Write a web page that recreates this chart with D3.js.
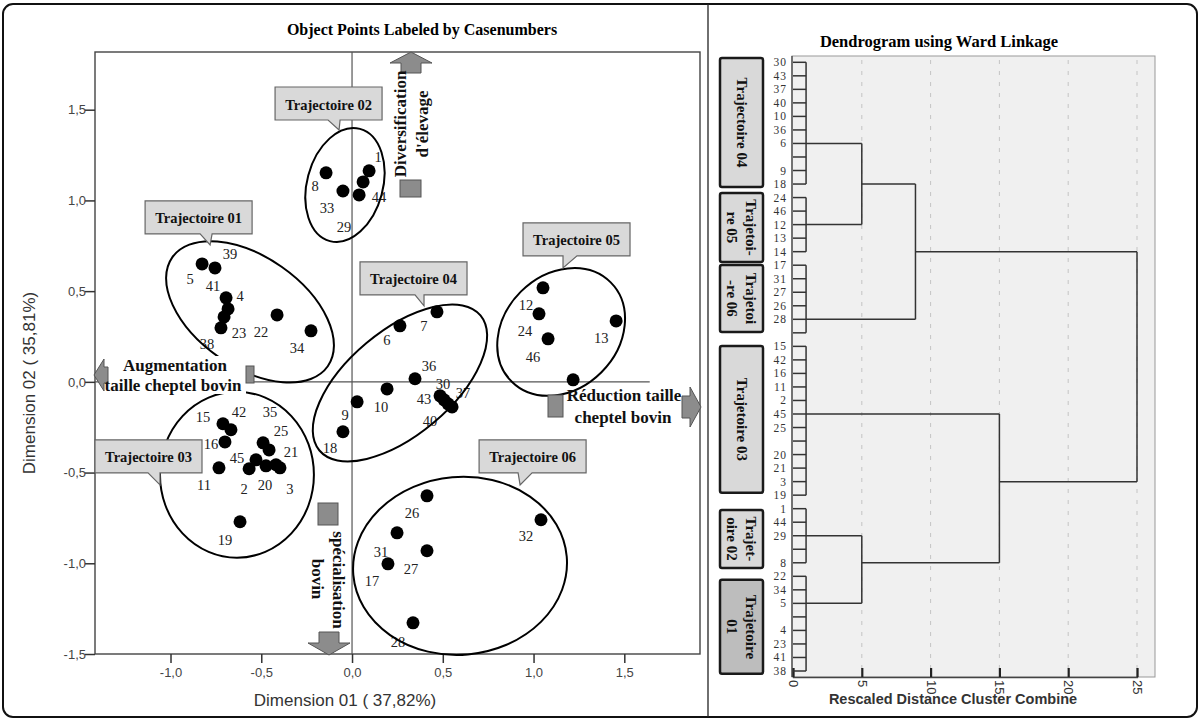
<!DOCTYPE html>
<html>
<head>
<meta charset="utf-8">
<script src="https://cdn.jsdelivr.net/npm/d3@7"></script>
<style>
  body { margin: 0; background: #fff; }
  svg { display: block; }
</style>
</head>
<body>
<div id="wrapper"></div>
<script>
// ---- data ----
const caseIds = d3.range(1, 47)
const dim1 = [0.094, -0.567, -0.397, -0.683, -0.826, 0.264, 0.468, -0.143, 0.028, 0.193,
  -0.733, 1.052, 1.455, 1.218, -0.711, -0.700, 0.198, -0.050, -0.617, -0.474,
  -0.419, -0.413, -0.705, 1.030, -0.457, 0.413, 0.413, 0.336, 0.039, 0.485,
  0.248, 1.041, -0.050, -0.226, -0.490, 0.347, 0.529, -0.722, -0.755, 0.551,
  -0.694, -0.667, 0.507, 0.061, -0.529, 1.080]
const dim2 = [1.163, -0.479, -0.474, 0.402, 0.650, 0.309, 0.386, 1.152, -0.110, -0.039,
  -0.474, 0.518, 0.336, 0.011, -0.231, -0.331, -1.003, -0.275, -0.771, -0.463,
  -0.457, 0.369, 0.358, 0.375, -0.375, -0.628, -0.931, -1.328, 1.030, -0.077,
  -0.832, -0.760, 1.052, 0.281, -0.336, 0.017, -0.121, 0.298, 0.628, -0.138,
  0.463, -0.264, -0.099, 1.102, -0.430, 0.237]

const xTicks = [-1, -0.5, 0, 0.5, 1, 1.5]
const yTicks = [-1.5, -1, -0.5, 0, 0.5, 1, 1.5]

// dendrogram: leaf order (blank = label not printed)
const dendroRows = ["30","43","37","40","10","36","6","","9","18",
  "24","46","12","13","14","17","31","27","26","28","",
  "15","42","16","11","2","45","25","","20","21","3","19",
  "1","44","29","","8","22","34","5","","4","23","41","38"]
const clusterNames = ["T04", "T05", "T06", "T03", "T02", "T01"]
const clusterFirst = [0, 10, 15, 21, 33, 38]
const clusterLast = [9, 14, 20, 32, 37, 45]
const clusterJoin = [6, 12, 19, 26, 35, 40]
const leafHeight = 0.95
const merges = { h: 25, children: [
  { h: 8.9, children: [{ h: 5, children: ["T04", "T05"] }, "T06"] },
  { h: 15, children: ["T03", { h: 5, children: ["T02", "T01"] }] }
]}
const distTicks = [0, 5, 10, 15, 20, 25]

// ---- label placement and annotations (layout) ----
const labelOffset = [[9,-14],[-5,20],[10,21],[12,-13],[-12,15],[-13,14],[-13,14],[-11,13],[-12,13],[-6,18],
  [-15,17],[-17,17],[-15,17],null,[-20,-7],[-14,2],[-16,17],[-13,16],[-15,18],[-1,19],
  [15,-13],[-16,17],[15,16],[-14,17],[12,-19],[-15,17],[-16,18],[-15,19],[-15,32],[3,-12],
  [-16,19],[-15,16],[-16,17],[-14,17],[7,-31],[14,-13],[15,-11],[-14,16],[15,-14],[-22,14],
  [-13,-12],[8,-18],[-20,-1],[16,15],[-19,-2],[-15,18]]

const ellipses = [
  { cx: -0.039, cy: 1.085, rx: 0.209, ry: 0.320, rot: 15 },
  { cx: -0.562, cy: 0.386, rx: 0.523, ry: 0.303, rot: 35 },
  { cx: 0.264, cy: -0.006, rx: 0.579, ry: 0.287, rot: -40 },
  { cx: 1.152, cy: 0.275, rx: 0.386, ry: 0.314, rot: -45 },
  { cx: -0.634, cy: -0.512, rx: 0.424, ry: 0.457, rot: 0 },
  { cx: 0.595, cy: -1.014, rx: 0.590, ry: 0.490, rot: -5 },
]
const callouts = [
  { text: "Trajectoire 02", x: -0.424, y: 1.625, b1: 53, b2: 65, tx: 64, ty: 10 },
  { text: "Trajectoire 01", x: -1.140, y: 0.997, b1: 55, b2: 67, tx: 65, ty: 11 },
  { text: "Trajectoire 04", x: 0.044, y: 0.661, b1: 55, b2: 64, tx: 64, ty: 11 },
  { text: "Trajectoire 05", x: 0.942, y: 0.876, b1: 40, b2: 54, tx: 40, ty: 12 },
  { text: "Trajectoire 03", x: -1.416, y: -0.320, b1: 53, b2: 65, tx: 65, ty: 12 },
  { text: "Trajectoire 06", x: 0.700, y: -0.320, b1: 39, b2: 53, tx: 41, ty: 12 },
]
const clusterBoxes = [
  { lines: ["Trajectoire 04"], r0: -0.32, r1: 9.22, fill: "#d9d9d9" },
  { lines: ["Trajetoi-", "re 05"], r0: 9.66, r1: 14.76, fill: "#d9d9d9" },
  { lines: ["Trajetoi", "-re 06"], r0: 14.98, r1: 19.93, fill: "#d9d9d9" },
  { lines: ["Trajetoire 03"], r0: 20.97, r1: 31.83, fill: "#d9d9d9" },
  { lines: ["Trajet-", "oire 02"], r0: 33.09, r1: 37.38, fill: "#d9d9d9" },
  { lines: ["Trajetoire", "01"], r0: 38.26, r1: 45.21, fill: "#bdbdbd" },
]

const serif = "'Liberation Serif', 'Times New Roman', serif"
const sans = "'Liberation Sans', Arial, sans-serif"

const svg = d3.select("#wrapper").append("svg")
  .attr("width", 1200)
  .attr("height", 721)

// outer frame + divider
svg.append("rect")
  .attr("x", 3).attr("y", 4).attr("width", 1194).attr("height", 713)
  .attr("rx", 10)
  .attr("fill", "#fff").attr("stroke", "#111").attr("stroke-width", 2)
svg.append("line")
  .attr("x1", 708).attr("x2", 708).attr("y1", 4).attr("y2", 717)
  .attr("stroke", "#222").attr("stroke-width", 1.3)

// ================= scatter =================
const plot = { left: 95, right: 700, top: 52, bottom: 654 }
const xScale = d3.scaleLinear().domain([-1.416, 1.917]).range([plot.left, plot.right])
const yScale = d3.scaleLinear().domain([-1.5, 1.818]).range([plot.bottom, plot.top])
const pxPerUnit = xScale(1) - xScale(0)

svg.append("text")
  .attr("x", 422).attr("y", 35)
  .attr("text-anchor", "middle")
  .style("font-family", serif).style("font-weight", "bold").style("font-size", "16px")
  .text("Object Points Labeled by Casenumbers")

svg.append("rect")
  .attr("x", plot.left).attr("y", plot.top)
  .attr("width", plot.right - plot.left).attr("height", plot.bottom - plot.top)
  .attr("fill", "none").attr("stroke", "#444").attr("stroke-width", 1.4)

const fmt = d => (d < 0 ? "-" : "") + Math.abs(d).toFixed(1).replace(".", ",")

const xAxis = svg.append("g")
  .attr("transform", `translate(0, ${plot.bottom})`)
  .call(d3.axisBottom(xScale).tickValues(xTicks).tickSize(9).tickFormat(fmt))
const yAxis = svg.append("g")
  .attr("transform", `translate(${plot.left}, 0)`)
  .call(d3.axisLeft(yScale).tickValues(yTicks).tickSize(10).tickFormat(fmt))
;[xAxis, yAxis].forEach(ax => {
  ax.select(".domain").remove()
  ax.selectAll("line").attr("stroke", "#333").attr("stroke-width", 1.5)
  ax.selectAll("text").attr("fill", "#444").style("font-family", sans).style("font-size", "13px")
})
xAxis.selectAll("text").attr("y", 14)
yAxis.selectAll("text").attr("x", -9)

svg.append("text")
  .attr("x", 345).attr("y", 706)
  .attr("text-anchor", "middle")
  .attr("fill", "#333")
  .style("font-family", sans).style("font-size", "17px")
  .text("Dimension 01 ( 37,82%)")
svg.append("text")
  .attr("transform", "translate(35, 383) rotate(-90)")
  .attr("text-anchor", "middle")
  .attr("fill", "#333")
  .style("font-family", sans).style("font-size", "17px")
  .text("Dimension 02 ( 35,81%)")

// zero reference lines
svg.append("line")
  .attr("x1", xScale(0)).attr("x2", xScale(0))
  .attr("y1", plot.top).attr("y2", plot.bottom)
  .attr("stroke", "#555").attr("stroke-width", 1.2)
svg.append("line")
  .attr("x1", plot.left).attr("x2", xScale(1.64))
  .attr("y1", yScale(0)).attr("y2", yScale(0))
  .attr("stroke", "#555").attr("stroke-width", 1.2)

const points = caseIds.map((id, i) => ({ id, x: dim1[i], y: dim2[i], off: labelOffset[i] }))

// labels then dots
svg.append("g").selectAll("text")
  .data(points.filter(d => d.off))
  .enter().append("text")
    .attr("x", d => xScale(d.x) + d.off[0])
    .attr("y", d => yScale(d.y) + d.off[1])
    .attr("text-anchor", "middle")
    .attr("dominant-baseline", "central")
    .attr("fill", "#222")
    .style("font-family", serif).style("font-size", "14.5px")
    .text(d => d.id)

svg.append("g").selectAll("circle")
  .data(points)
  .enter().append("circle")
    .attr("cx", d => xScale(d.x))
    .attr("cy", d => yScale(d.y))
    .attr("r", 6.5)
    .attr("fill", "#000")

// ellipses round the trajectories
svg.append("g").selectAll("ellipse")
  .data(ellipses)
  .enter().append("ellipse")
    .attr("transform", d => `translate(${xScale(d.cx)}, ${yScale(d.cy)}) rotate(${d.rot})`)
    .attr("rx", d => d.rx * pxPerUnit)
    .attr("ry", d => d.ry * pxPerUnit)
    .attr("fill", "none")
    .attr("stroke", "#000")
    .attr("stroke-width", 2)

// white ground behind the left annotation
svg.append("rect")
  .attr("x", 104).attr("y", 356).attr("width", 142).attr("height", 38)
  .attr("fill", "#fff")

// arrows and grey squares
function arrowPath(tip, dir, headW, headL, shaftW, shaftL) {
  const [tx, ty] = tip
  const hw = headW / 2, sw = shaftW / 2, L = headL + shaftL
  const base = [[0, 0], [headL, -hw], [headL, -sw], [L, -sw], [L, sw], [headL, sw], [headL, hw]]
  const map = {
    left: ([u, v]) => [tx + u, ty + v],
    right: ([u, v]) => [tx - u, ty + v],
    up: ([u, v]) => [tx + v, ty + u],
    down: ([u, v]) => [tx + v, ty - u],
  }[dir]
  return "M" + base.map(map).map(p => p.join(",")).join("L") + "Z"
}
const arrows = [
  { tip: [411, 52], dir: "up", hw: 42, hl: 11, sw: 20, sl: 10 },
  { tip: [329, 655], dir: "down", hw: 42, hl: 12, sw: 20, sl: 11 },
  { tip: [701, 407], dir: "right", hw: 40, hl: 11, sw: 22, sl: 8 },
  { tip: [94, 375], dir: "left", hw: 32, hl: 10, sw: 16, sl: 4 },
]
svg.append("g").selectAll("path")
  .data(arrows)
  .enter().append("path")
    .attr("d", d => arrowPath(d.tip, d.dir, d.hw, d.hl, d.sw, d.sl))
    .attr("fill", "#8c8c8c").attr("stroke", "#555").attr("stroke-width", 1)

const squares = [[400, 180, 21, 17], [246, 366, 8, 17], [548, 395, 15, 22], [318, 503, 20, 22]]
svg.append("g").selectAll("rect")
  .data(squares)
  .enter().append("rect")
    .attr("x", d => d[0]).attr("y", d => d[1])
    .attr("width", d => d[2]).attr("height", d => d[3])
    .attr("fill", "#8c8c8c").attr("stroke", "#555").attr("stroke-width", 1)

const notes = [
  { t: "Diversification", x: 400, y: 124, rot: -90 },
  { t: "d'élevage", x: 422, y: 124, rot: -90 },
  { t: "Augmentation", x: 175, y: 365, rot: 0 },
  { t: "taille cheptel bovin", x: 173, y: 385, rot: 0 },
  { t: "Réduction taille", x: 624, y: 395, rot: 0 },
  { t: "cheptel bovin", x: 623, y: 417, rot: 0 },
  { t: "spécialisation", x: 338, y: 580, rot: 90 },
  { t: "bovin", x: 317, y: 579, rot: 90 },
]
svg.append("g").selectAll("text")
  .data(notes)
  .enter().append("text")
    .attr("transform", d => `translate(${d.x}, ${d.y}) rotate(${d.rot})`)
    .attr("text-anchor", "middle")
    .attr("dominant-baseline", "central")
    .attr("fill", "#111")
    .style("font-family", serif).style("font-weight", "bold").style("font-size", "17px")
    .text(d => d.t)

// callout boxes
const cw = 107, ch = 33
const calloutG = svg.append("g").selectAll("g")
  .data(callouts)
  .enter().append("g")
    .attr("transform", d => `translate(${xScale(d.x)}, ${yScale(d.y)})`)
calloutG.append("path")
  .attr("d", d => `M0,0H${cw}V${ch}H${d.b2}L${d.tx},${ch + d.ty}L${d.b1},${ch}H0Z`)
  .attr("fill", "#d9d9d9").attr("stroke", "#666").attr("stroke-width", 1.2)
calloutG.append("text")
  .attr("x", cw / 2).attr("y", ch / 2 + 1)
  .attr("text-anchor", "middle")
  .attr("dominant-baseline", "central")
  .attr("fill", "#111")
  .style("font-family", serif).style("font-weight", "bold").style("font-size", "14.5px")
  .text(d => d.text)

// ================= dendrogram =================
const dFrame = { left: 792, right: 1155, top: 56, bottom: 677 }
const xD = d3.scaleLinear().domain([0, 25]).range([793, 1137])
const yD = d3.scaleLinear().domain([0, 45]).range([62.3, 671])

svg.append("text")
  .attr("x", 939).attr("y", 47)
  .attr("text-anchor", "middle")
  .style("font-family", serif).style("font-weight", "bold").style("font-size", "16.5px")
  .text("Dendrogram using Ward Linkage")

svg.append("rect")
  .attr("x", dFrame.left).attr("y", dFrame.top)
  .attr("width", dFrame.right - dFrame.left).attr("height", dFrame.bottom - dFrame.top)
  .attr("fill", "#f0f0f0").attr("stroke", "#999").attr("stroke-width", 1)

svg.append("g").selectAll("line")
  .data(distTicks.filter(d => d > 0))
  .enter().append("line")
    .attr("x1", d => xD(d)).attr("x2", d => xD(d))
    .attr("y1", dFrame.top + 4).attr("y2", dFrame.bottom)
    .attr("stroke", "#c4c4c4").attr("stroke-dasharray", "4,7").attr("stroke-width", 1)

svg.append("line")
  .attr("x1", dFrame.left).attr("x2", dFrame.left)
  .attr("y1", dFrame.top).attr("y2", dFrame.bottom)
  .attr("stroke", "#444").attr("stroke-width", 1.3)

const dAxis = svg.append("g")
  .attr("transform", `translate(0, ${dFrame.bottom})`)
  .call(d3.axisBottom(xD).tickValues(distTicks).tickSize(-9))
dAxis.select(".domain").attr("stroke", "#444").attr("stroke-width", 1.3)
dAxis.selectAll(".tick line").attr("stroke", "#222").attr("stroke-width", 2.2)
dAxis.selectAll(".tick text")
  .attr("y", 0).attr("dy", null)
  .attr("transform", "translate(0, 3) rotate(90)")
  .attr("text-anchor", "start")
  .attr("dominant-baseline", "central")
  .attr("fill", "#333")
  .style("font-family", sans).style("font-size", "13px")

svg.append("text")
  .attr("x", 953).attr("y", 704)
  .attr("text-anchor", "middle")
  .attr("fill", "#333")
  .style("font-family", sans).style("font-weight", "bold").style("font-size", "14.5px")
  .text("Rescaled Distance Cluster Combine")

// case labels
svg.append("g").selectAll("text")
  .data(dendroRows)
  .enter().append("text")
    .attr("x", 787)
    .attr("y", (d, i) => yD(i))
    .attr("text-anchor", "end")
    .attr("dominant-baseline", "central")
    .attr("fill", "#333")
    .attr("letter-spacing", 1)
    .style("font-family", serif).style("font-size", "11.5px")
    .text(d => d)

const dLines = svg.append("g")
  .attr("stroke", "#333").attr("stroke-width", 1.5).attr("fill", "none")
function seg(x1, y1, x2, y2) {
  dLines.append("line").attr("x1", x1).attr("y1", y1).attr("x2", x2).attr("y2", y2)
}
// leaf brackets
clusterNames.forEach((name, c) => {
  d3.range(clusterFirst[c], clusterLast[c] + 1).forEach(r => seg(xD(0), yD(r), xD(leafHeight), yD(r)))
  seg(xD(leafHeight), yD(clusterFirst[c]), xD(leafHeight), yD(clusterLast[c]))
})
function drawNode(n) {
  if (typeof n === "string") {
    const c = clusterNames.indexOf(n)
    return { h: leafHeight, row: clusterJoin[c] }
  }
  const kids = n.children.map(drawNode)
  kids.forEach(k => seg(xD(k.h), yD(k.row), xD(n.h), yD(k.row)))
  seg(xD(n.h), yD(kids[0].row), xD(n.h), yD(kids[1].row))
  return { h: n.h, row: Math.floor((kids[0].row + kids[1].row) / 2) }
}
drawNode(merges)

// trajectory boxes at the left of the dendrogram
const boxG = svg.append("g").selectAll("g")
  .data(clusterBoxes)
  .enter().append("g")
boxG.append("rect")
  .attr("x", 720).attr("width", 43)
  .attr("y", d => yD(d.r0)).attr("height", d => yD(d.r1) - yD(d.r0))
  .attr("rx", 2)
  .attr("fill", d => d.fill).attr("stroke", "#1a1a1a").attr("stroke-width", 2.5)
boxG.each(function(d) {
  const cy = (yD(d.r0) + yD(d.r1)) / 2
  const n = d.lines.length
  d3.select(this).selectAll("text")
    .data(d.lines)
    .enter().append("text")
      .attr("transform", (t, i) => `translate(${741.5 + (n - 1) * 9.5 - i * 19}, ${cy}) rotate(90)`)
      .attr("text-anchor", "middle")
      .attr("dominant-baseline", "central")
      .attr("fill", "#111")
      .style("font-family", serif).style("font-weight", "bold").style("font-size", "15px")
      .text(t => t)
})
</script>
</body>
</html>
